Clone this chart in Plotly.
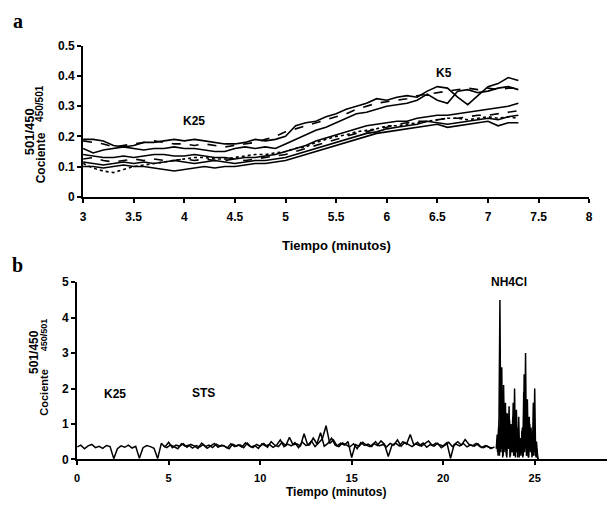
import plotly.graph_objects as go

# ---------------- Panel a data ----------------
t_a = [3.0, 3.1, 3.2, 3.3, 3.4, 3.5, 3.6, 3.7, 3.8, 3.9, 4.0, 4.1, 4.2, 4.3, 4.4,
       4.5, 4.6, 4.7, 4.8, 4.9, 5.0, 5.1, 5.2, 5.3, 5.4, 5.5, 5.6, 5.7, 5.8, 5.9,
       6.0, 6.1, 6.2, 6.3, 6.4, 6.5, 6.6, 6.7, 6.8, 6.9, 7.0, 7.1, 7.2, 7.3]

a1 = [.19, .19, .185, .17, .165, .17, .18, .18, .185, .19, .185, .19, .185, .18, .175,
      .175, .18, .19, .185, .19, .20, .235, .245, .25, .265, .275, .29, .30, .31, .325,
      .32, .33, .335, .33, .35, .365, .36, .33, .305, .335, .365, .375, .395, .385]
a2 = [.16, .145, .155, .16, .165, .16, .155, .16, .16, .165, .16, .16, .155, .15, .15,
      .16, .165, .16, .165, .16, .175, .19, .205, .22, .23, .245, .26, .275, .28, .29,
      .30, .305, .31, .32, .34, .32, .31, .35, .355, .345, .35, .36, .365, .355]
a3 = [.185, .18, .175, .165, .17, .175, .18, .185, .18, .175, .175, .17, .175, .17, .165,
      .17, .175, .18, .19, .20, .215, .225, .235, .245, .255, .265, .275, .29, .30, .31,
      .315, .32, .325, .335, .34, .345, .35, .355, .36, .355, .36, .355, .36, .36]
a4 = [.14, .135, .13, .13, .135, .13, .135, .14, .14, .135, .135, .14, .135, .13, .13,
      .125, .13, .13, .135, .14, .15, .16, .17, .185, .195, .205, .215, .225, .235, .24,
      .245, .25, .25, .26, .265, .27, .27, .275, .28, .285, .29, .295, .30, .31]
a5 = [.125, .13, .12, .115, .12, .125, .12, .125, .12, .12, .125, .12, .125, .12, .12,
      .125, .12, .125, .13, .135, .14, .15, .16, .17, .18, .19, .20, .21, .215, .225,
      .23, .24, .245, .25, .25, .255, .26, .26, .265, .27, .27, .275, .28, .285]
a6 = [.115, .11, .105, .11, .115, .11, .115, .11, .115, .12, .115, .11, .115, .12, .115,
      .11, .115, .12, .12, .125, .13, .14, .15, .16, .17, .18, .19, .20, .21, .215,
      .225, .23, .235, .24, .25, .245, .24, .245, .25, .255, .26, .255, .265, .27]
a7 = [.10, .10, .095, .10, .105, .10, .10, .095, .09, .085, .09, .095, .10, .095, .10,
      .10, .105, .11, .11, .115, .12, .13, .14, .15, .16, .17, .18, .19, .20, .21,
      .215, .22, .225, .23, .235, .24, .23, .235, .24, .245, .25, .235, .245, .245]
a8 = [.11, .095, .085, .08, .09, .10, .105, .11, .115, .12, .125, .13, .13, .125, .125,
      .13, .135, .14, .14, .145, .15, .16, .165, .18, .19, .20, .205, .215, .22, .225,
      .235, .235, .24, .245, .25, .255, .26, .26, .255, .26, .265, .26, .265, .26]

series_a = [(a1, "solid"), (a2, "solid"), (a3, "dash"), (a4, "solid"),
            (a5, "dash"), (a6, "solid"), (a7, "solid"), (a8, "dot")]

ticks_a_x = [3, 3.5, 4, 4.5, 5, 5.5, 6, 6.5, 7, 7.5, 8]
ticks_a_x_text = ["3", "3.5", "4", "4.5", "5", "5.5", "6", "6.5", "7", "7.5", "8"]
ticks_a_y = [0, 0.1, 0.2, 0.3, 0.4, 0.5]
ticks_a_y_text = ["0", "0.1", "0.2", "0.3", "0.4", "0.5"]

# ---------------- Panel b data ----------------
t_b = [0.0, 0.2, 0.4, 0.6, 0.8, 1.0, 1.2, 1.4, 1.6, 1.8,
       2.0, 2.2, 2.4, 2.6, 2.8, 3.0, 3.2, 3.4, 3.6, 3.8,
       4.0, 4.2, 4.4, 4.6, 4.8, 5.0, 5.2, 5.4, 5.6, 5.8,
       6.0, 6.2, 6.4, 6.6, 6.8, 7.0, 7.2, 7.4, 7.6, 7.8,
       8.0, 8.2, 8.4, 8.6, 8.8, 9.0, 9.2, 9.4, 9.6, 9.8,
       10.0, 10.2, 10.4, 10.6, 10.8, 11.0, 11.2, 11.4, 11.6, 11.8,
       12.0, 12.2, 12.4, 12.6, 12.8, 13.0, 13.2, 13.4, 13.6, 13.8,
       14.0, 14.2, 14.4, 14.6, 14.8, 15.0, 15.2, 15.4, 15.6, 15.8,
       16.0, 16.2, 16.4, 16.6, 16.8, 17.0, 17.2, 17.4, 17.6, 17.8,
       18.0, 18.2, 18.4, 18.6, 18.8, 19.0, 19.2, 19.4, 19.6, 19.8,
       20.0, 20.2, 20.4, 20.6, 20.8, 21.0, 21.2, 21.4, 21.6, 21.8,
       22.0, 22.2, 22.4, 22.6, 22.8]
b_base = [.35, .40, .30, .38, .42, .33, .37, .31, .39, .36,
          .02, .30, .38, .34, .40, .32, .37, .03, .33, .39,
          .36, .31, .02, .45, .35, .48, .33, .40, .37, .44,
          .34, .42, .38, .31, .46, .36, .40, .33, .43, .37,
          .39, .32, .44, .36, .41, .35, .47, .38, .33, .42,
          .37, .45, .34, .50, .40, .36, .48, .39, .62, .41,
          .44, .38, .72, .40, .52, .36, .47, .58, .95, .45,
          .55, .38, .46, .40, .50, .05, .42, .37, .48, .40,
          .36, .45, .39, .52, .42, .08, .40, .46, .38, .50,
          .43, .70, .40, .48, .37, .44, .52, .39, .46, .41,
          .38, .47, .03, .42, .50, .40, .56, .43, .38, .45,
          .36, .33, .38, .30, .35]

t_b2 = [4.7, 4.9, 5.1, 5.3, 5.5, 5.7, 5.9, 6.1, 6.3, 6.5,
        6.7, 6.9, 7.1, 7.3, 7.5, 7.7, 7.9, 8.1, 8.3, 8.5,
        8.7, 8.9, 9.1, 9.3, 9.5, 9.7, 9.9, 10.1, 10.3, 10.5,
        10.7, 10.9, 11.1, 11.3, 11.5, 11.7, 11.9, 12.1, 12.3, 12.5,
        12.7, 12.9, 13.1, 13.3, 13.5, 13.7, 13.9, 14.1, 14.3, 14.5,
        14.7, 14.9, 15.1, 15.3, 15.5, 15.7, 15.9, 16.1, 16.3, 16.5,
        16.7, 16.9, 17.1, 17.3, 17.5, 17.7, 17.9, 18.1, 18.3, 18.5,
        18.7, 18.9, 19.1, 19.3, 19.5, 19.7, 19.9, 20.1, 20.3, 20.5,
        20.7, 20.9, 21.1, 21.3, 21.5, 21.7, 21.9, 22.1, 22.3, 22.5,
        22.7]
b_base2 = [.38, .33, .41, .36, .30, .44, .37, .40, .32, .39,
           .35, .42, .31, .38, .45, .34, .40, .36, .30, .43,
           .37, .41, .33, .46, .35, .39, .31, .44, .38, .42,
           .34, .40, .55, .36, .43, .38, .47, .33, .49, .39,
           .41, .60, .44, .75, .37, .45, .60, .40, .36, .46,
           .41, .35, .44, .30, .47, .39, .43, .36, .50, .38,
           .42, .35, .45, .40, .55, .37, .48, .41, .36, .44,
           .39, .46, .34, .42, .37, .45, .33, .40, .48, .36,
           .43, .38, .45, .35, .41, .37, .44, .33, .39, .34,
           .32]

t_s1 = [22.90, 22.95, 23.00, 23.05, 23.10, 23.15, 23.20, 23.25, 23.30, 23.35,
        23.40, 23.45, 23.50, 23.55, 23.60, 23.65, 23.70, 23.75, 23.80, 23.85,
        23.90, 23.95, 24.00, 24.05, 24.10, 24.15, 24.20, 24.25, 24.30, 24.35,
        24.40, 24.45, 24.50, 24.55, 24.60, 24.65, 24.70, 24.75, 24.80, 24.85,
        24.90, 24.95, 25.00, 25.05, 25.10, 25.15, 25.20]
s1 = [.30, .70, .10, 1.2, 4.5, .20, 2.6, .05, 2.1, .40,
      1.6, .10, 1.3, .30, 1.5, .05, 1.0, .20, 1.2, .10,
      2.0, .05, 1.4, .30, .90, .05, .60, .10, .80, .05,
      1.9, .20, 3.0, .10, 1.7, .05, 1.2, .30, .90, .05,
      .80, .10, 2.0, .10, .50, .05, 0.0]
t_s2 = [22.925, 22.975, 23.025, 23.075, 23.125, 23.175, 23.225, 23.275, 23.325, 23.375,
        23.425, 23.475, 23.525, 23.575, 23.625, 23.675, 23.725, 23.775, 23.825, 23.875,
        23.925, 23.975, 24.025, 24.075, 24.125, 24.175, 24.225, 24.275, 24.325, 24.375,
        24.425, 24.475, 24.525, 24.575, 24.625, 24.675, 24.725, 24.775, 24.825, 24.875,
        24.925, 24.975, 25.025, 25.075, 25.125, 25.175]
s2 = [.50, .20, .90, .10, 1.8, .30, 1.4, .10, 1.0, .20,
      1.3, .05, .80, .30, 1.1, .10, .70, .20, 1.6, .10,
      1.0, .20, .60, .05, 1.2, .10, .50, .20, .90, .10,
      2.4, .30, 1.5, .10, .80, .05, 1.0, .20, .60, .10,
      1.6, .20, .40, .05, .30, 0.0]

ticks_b_x = [0, 5, 10, 15, 20, 25]
ticks_b_x_text = ["0", "5", "10", "15", "20", "25"]
ticks_b_y = [0, 1, 2, 3, 4, 5]
ticks_b_y_text = ["0", "1", "2", "3", "4", "5"]

# ---------------- figure ----------------
W, H = 611, 514
def px(x):
    return x / W
def py(y):
    return 1 - y / H

FONT = "Liberation Sans, Arial, sans-serif"
fig = go.Figure()

for vals, dash in series_a:
    fig.add_trace(go.Scatter(x=t_a, y=vals, mode="lines", xaxis="x", yaxis="y",
                             line=dict(color="black", width=1.6, dash=dash),
                             showlegend=False, hoverinfo="skip"))

for tx, vy in [(t_b, b_base), (t_b2, b_base2), (t_s1, s1), (t_s2, s2)]:
    fig.add_trace(go.Scatter(x=tx, y=vy, mode="lines", xaxis="x2", yaxis="y2",
                             line=dict(color="black", width=1.5), showlegend=False,
                             hoverinfo="skip"))


def axis_common(size):
    return dict(showgrid=False, zeroline=False, showline=True, linecolor="black",
                linewidth=2, ticks="outside", ticklen=4, tickwidth=2,
                tickcolor="black",
                tickfont=dict(family=FONT, size=size, color="black", weight="bold"))

fig.update_layout(
    width=W, height=H, margin=dict(l=0, r=0, t=0, b=0),
    paper_bgcolor="white", plot_bgcolor="white",
    xaxis=dict(domain=[px(81), px(593)], range=[3, 8], anchor="y",
               tickvals=ticks_a_x, ticktext=ticks_a_x_text, ticklabelstandoff=4,
               **axis_common(12)),
    yaxis=dict(domain=[py(195), py(40)], range=[0, 0.5], anchor="x",
               tickvals=ticks_a_y, ticktext=ticks_a_y_text, **axis_common(12)),
    xaxis2=dict(domain=[px(75), px(611)], range=[0, 28.95], anchor="y2",
                tickvals=ticks_b_x, ticktext=ticks_b_x_text, ticklabelstandoff=3,
                **axis_common(11)),
    yaxis2=dict(domain=[py(465), py(283)], range=[0, 5], anchor="x2",
                tickvals=ticks_b_y, ticktext=ticks_b_y_text, **axis_common(12)),
)


def ann(text, x, y, size=12, bold=True, angle=0, family=FONT):
    fig.add_annotation(text=text, x=px(x), y=py(y), xref="paper", yref="paper",
                       showarrow=False, textangle=angle, xanchor="center",
                       yanchor="middle",
                       font=dict(family=family, size=size, color="black",
                                 weight="bold" if bold else "normal"))

# panel letters
ann("a", 15, 14, size=20, family="Liberation Serif, serif")
ann("b", 15, 265, size=20, family="Liberation Serif, serif")

# panel a labels
ann("K25", 193, 117, size=12)
ann("K5", 446, 68, size=12)
ann("Tiempo (minutos)", 337, 245, size=13)
ann("501/450", 27, 128, size=13, angle=-90)
ann("Cociente", 38, 155, size=12, angle=-90)
ann("450/501", 37, 99, size=10, angle=-90)

# panel b labels
ann("K25", 113, 398, size=12)
ann("STS", 203, 397, size=12)
ann("NH4Cl", 512, 283, size=12)
ann("Tiempo (minutos)", 337, 499, size=12)
ann("501/450", 32, 355, size=12, angle=-90)
ann("Cociente", 42, 397, size=11, angle=-90)
ann("450/501", 41, 337, size=9, angle=-90)

fig.write_html("out.html", config={"displayModeBar": False},
               post_script="document.body.style.margin='0';"
                           "document.body.style.overflow='hidden';")
